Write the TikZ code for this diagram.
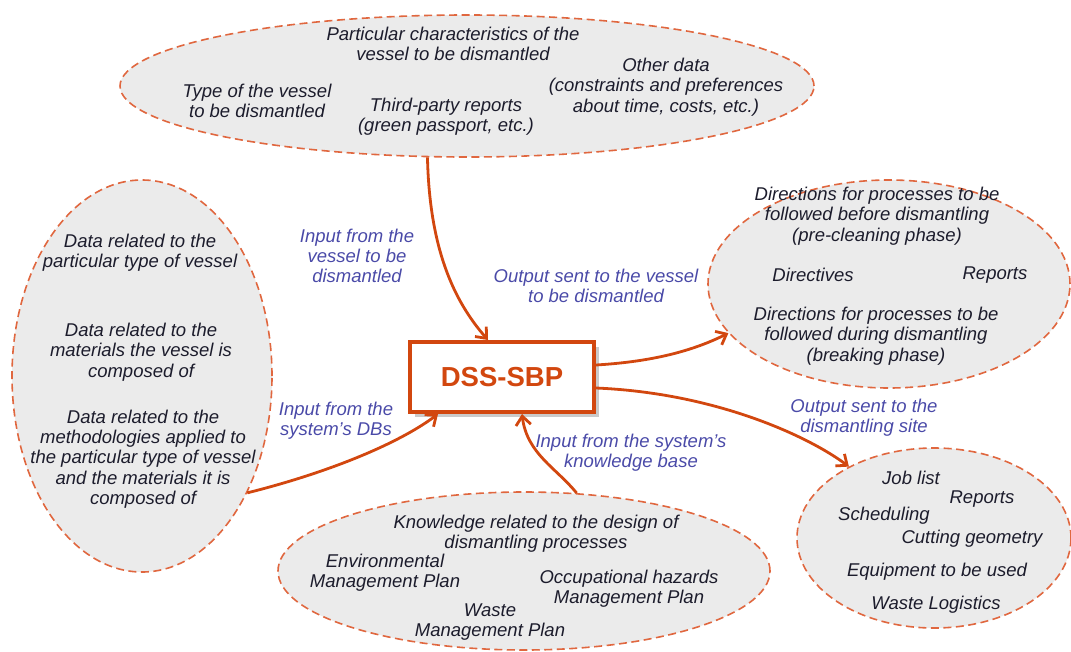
\documentclass[tikz,border=0pt]{standalone}
\usepackage{fontspec}
\setmainfont{Liberation Sans}
\usetikzlibrary{shapes.geometric,arrows.meta,shadows}
\definecolor{conn}{HTML}{D2470F}
\definecolor{dashc}{HTML}{E0673F}
\definecolor{ellfill}{HTML}{EBEBEB}
\definecolor{txtc}{HTML}{1C1C2C}
\definecolor{labc}{HTML}{4A4AA8}
\begin{document}
\begin{tikzpicture}[x=1pt,y=-1pt,
  ell/.style={ellipse, draw=dashc, fill=ellfill, line width=1.6pt, dash pattern=on 8pt off 4.5pt, inner sep=0pt},
  txt/.style={align=center, text=txtc, font=\itshape\fontsize{18.5}{20.3}\selectfont, inner sep=0pt},
  lab/.style={align=center, text=labc, font=\itshape\fontsize{18.5}{20.3}\selectfont, inner sep=0pt},
  conline/.style={draw=conn, line width=2.8pt, -{Straight Barb[length=9pt,width=15pt,line width=2.8pt]}},
  dssbox/.style={draw=conn, line width=4pt, fill=white, minimum width=184pt, minimum height=70pt,
     drop shadow={shadow xshift=5pt, shadow yshift=-5pt, fill=black!35, opacity=0.6},
     text=conn, font=\bfseries\fontsize{27.5}{30}\selectfont}
]
\useasboundingbox (0,0) rectangle (1071,651);

% ellipses
\node[ell, minimum width=694pt, minimum height=142pt] (top) at (467,86) {};
\node[ell, minimum width=260pt, minimum height=392pt] (left) at (142,376) {};
\node[ell, minimum width=362pt, minimum height=208pt] (rt) at (889,284) {};
\node[ell, minimum width=274pt, minimum height=180pt] (br) at (934,538) {};
\node[ell, minimum width=492pt, minimum height=158pt] (bot) at (524,571) {};

% top ellipse texts
\node[txt] (t1) at (453,44) {Particular characteristics of the\\vessel to be dismantled};
\node[txt] (t2) at (257,101) {Type of the vessel\\to be dismantled};
\node[txt] (t3) at (446,117) {Third-party reports\\(green passport, etc.)};
\node[txt] (t4) at (666,87) {Other data\\(constraints and preferences\\about time, costs, etc.)};

% left ellipse texts
\node[txt] (l1) at (140,253) {Data related to the\\particular type of vessel};
\node[txt] (l2) at (141,352) {Data related to the\\materials the vessel is\\composed of};
\node[txt] (l3) at (143,459) {Data related to the\\methodologies applied to\\the particular type of vessel\\and the materials it is\\composed of};

% right top ellipse texts
\node[txt] (r1) at (877,216) {Directions for processes to be\\followed before dismantling\\(pre-cleaning phase)};
\node[txt] (r2) at (813,275) {Directives};
\node[txt] (r3) at (995,275) {Reports};
\node[txt] (r4) at (876,336) {Directions for processes to be\\followed during dismantling\\(breaking phase)};

% bottom right ellipse texts
\node[txt] (b1) at (911,478) {Job list};
\node[txt] (b2) at (982,499) {Reports};
\node[txt] (b3) at (884,516) {Scheduling};
\node[txt] (b4) at (972,539) {Cutting geometry};
\node[txt] (b5) at (937,572) {Equipment to be used};
\node[txt] (b6) at (936,605) {Waste Logistics};

% bottom ellipse texts
\node[txt] (k1) at (536,534) {Knowledge related to the design of\\dismantling processes};
\node[txt] (k2) at (385,573) {Environmental\\Management Plan};
\node[txt] (k3) at (629,589) {Occupational hazards\\Management Plan};
\node[txt] (k4) at (490,622) {Waste\\Management Plan};

% central box
\node[dssbox] (box) at (502,377) {DSS-SBP};

% connectors
\draw[conline] (top.241) .. controls +(2,90) and +(-35,-40) .. ([xshift=-14pt]box.north);
\draw[conline] (left.-48) .. controls +(80,-20) and +(-40,30) .. ([xshift=-64pt]box.south);
\draw[conline] (bot.56) .. controls +(-20,-25) and +(5,40) .. ([xshift=20pt]box.south);
\draw[conline] ([yshift=12pt]box.east) .. controls +(50,-3) and +(-40,20) .. (rt.197);
\draw[conline] ([yshift=-11pt]box.east) .. controls +(120,5) and +(-40,-30) .. (br.140);

% connector labels
\node[lab] (a1) at (357,256) {Input from the\\vessel to be\\dismantled};
\node[lab] (a2) at (596,286) {Output sent to the vessel\\to be dismantled};
\node[lab] (a3) at (336,421) {Input from the\\system's DBs};
\node[lab] (a4) at (631,453) {Input from the system's\\knowledge base};
\node[lab] (a5) at (864,418) {Output sent to the\\dismantling site};
\end{tikzpicture}
\end{document}
